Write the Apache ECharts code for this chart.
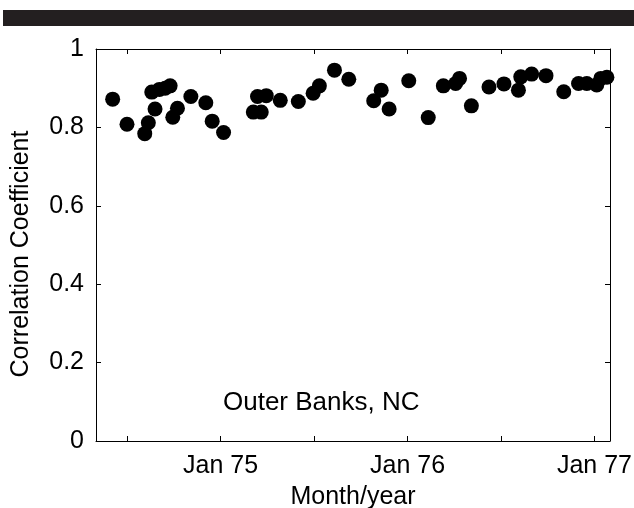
<!DOCTYPE html>
<html>
<head>
<meta charset="utf-8">
<script src="https://cdn.jsdelivr.net/npm/echarts@6/dist/echarts.min.js"></script>
<style>html,body{margin:0;padding:0;background:#fff}#c{width:634px;height:508px}</style>
</head>
<body>
<div id="c"></div>
<script>
// months relative to Jan 1975
const monthsX = [-6.93,-6.01,-4.87,-4.64,-4.42,-4.21,-3.93,-3.56,-3.24,-3.07,-2.77,-1.91,-0.95,-0.54,0.19,
  2.10,2.61,2.37,2.93,3.83,4.99,5.94,6.34,7.31,8.23,9.83,10.31,10.82,12.08,13.33,14.30,15.09,15.34,16.10,
  17.23,18.19,19.12,19.27,19.97,20.89,22.03,22.98,23.51,24.15,24.41,24.80];
const corr = [0.872,0.808,0.784,0.812,0.890,0.847,0.897,0.900,0.906,0.826,0.849,0.879,0.863,0.816,0.787,
  0.839,0.839,0.879,0.881,0.869,0.866,0.887,0.906,0.946,0.923,0.868,0.895,0.847,0.919,0.825,0.906,0.912,0.925,0.855,
  0.903,0.911,0.895,0.929,0.936,0.932,0.891,0.912,0.912,0.908,0.925,0.928];
const xTicks = [-6,0,6,12,18,24];
const xLabelVals = [0,12,24];
const xLabelText = {0:'Jan 75',12:'Jan 76',24:'Jan 77'};

const font = 'Liberation Sans, Arial, Helvetica, sans-serif';
const chart = echarts.init(document.getElementById('c'));
const pts = monthsX.map((x,i)=>[x,corr[i]]);
const baseX = {
  type:'value', min:-8, max:25,
  axisLine:{show:true,onZero:false,lineStyle:{color:'#000',width:1}},
  axisTick:{show:true,inside:true,length:5,customValues:xTicks,lineStyle:{color:'#000'}},
  splitLine:{show:false}
};
const baseY = {
  type:'value', min:0, max:1, interval:0.2,
  axisLine:{show:true,onZero:false,lineStyle:{color:'#000',width:1}},
  axisTick:{show:true,inside:true,length:5,lineStyle:{color:'#000'}},
  splitLine:{show:false}
};
chart.setOption({
  animation:false,
  grid:{left:96,right:24,top:49,bottom:67,outerBoundsMode:'none',containLabel:false},
  graphic:[
    {type:'rect',shape:{x:3,y:10,width:631,height:16},style:{fill:'#231f20'}},
    {type:'text',x:223,y:403,style:{text:'Outer Banks, NC',font:'26px '+font,fill:'#000',verticalAlign:'middle'}}
  ],
  xAxis:[
    Object.assign({},baseX,{position:'bottom',
      name:'Month/year',nameLocation:'middle',nameGap:44,
      nameTextStyle:{fontSize:25,color:'#000',fontFamily:font},
      axisLabel:{show:true,customValues:xLabelVals,margin:13,fontSize:25,color:'#000',fontFamily:font,
        formatter:v=>xLabelText[v]||''}}),
    Object.assign({},baseX,{position:'top',axisLabel:{show:false}})
  ],
  yAxis:[
    Object.assign({},baseY,{position:'left',
      name:'Correlation Coefficient',nameLocation:'middle',nameGap:62,
      nameTextStyle:{fontSize:25,color:'#000',fontFamily:font,padding:[0,18,0,0]},
      axisLabel:{show:true,margin:12,fontSize:25,color:'#000',fontFamily:font,
        formatter:v=>(v===0||v===1)?String(v):v.toFixed(1)}}),
    Object.assign({},baseY,{position:'right',axisLabel:{show:false}})
  ],
  series:[{type:'scatter',data:pts,symbol:'circle',symbolSize:15,itemStyle:{color:'#000',opacity:1},xAxisIndex:0,yAxisIndex:0}]
});
</script>
</body>
</html>
